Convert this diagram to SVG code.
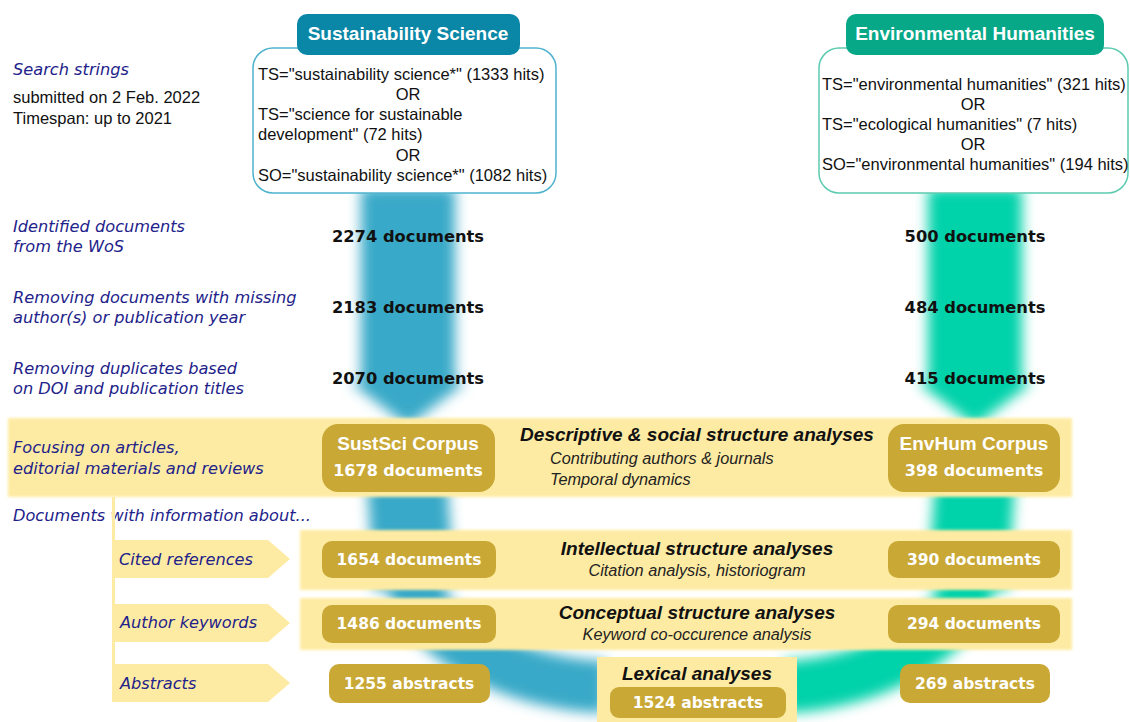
<svg xmlns="http://www.w3.org/2000/svg" width="1130" height="722" viewBox="0 0 1130 722">
<defs>
<filter id="blur" x="-40%" y="-20%" width="180%" height="140%"><feGaussianBlur stdDeviation="6.5"/></filter>
<filter id="soft" x="-5%" y="-20%" width="110%" height="140%"><feGaussianBlur stdDeviation="1.5"/></filter>
<style>
.lbl{font-family:"DejaVu Sans",Verdana,sans-serif;font-style:italic;font-size:16.2px;fill:#22228A}
.cnt{font-family:"DejaVu Sans",Verdana,sans-serif;font-weight:bold;font-size:16.3px;fill:#111;text-anchor:middle}
.q{font-family:"Liberation Sans",Arial,sans-serif;font-size:16.5px;fill:#111}
.qc{text-anchor:middle}
.gold{fill:#C9A835}
.gt{font-family:"DejaVu Sans",Verdana,sans-serif;font-weight:bold;font-size:15.5px;fill:#fff;text-anchor:middle}
.ct{font-family:"Liberation Sans",Arial,sans-serif;font-weight:bold;font-size:19px;fill:#fff;text-anchor:middle}
.band{fill:#FEEBA3}
.h{font-family:"Liberation Sans",Arial,sans-serif;font-weight:bold;font-style:italic;font-size:19px;fill:#111;text-anchor:middle}
.s{font-family:"Liberation Sans",Arial,sans-serif;font-style:italic;font-size:16.3px;fill:#222}
.tab{font-family:"Liberation Sans",Arial,sans-serif;font-weight:bold;font-size:19px;fill:#fff;text-anchor:middle}
</style>
</defs>
<rect width="1130" height="722" fill="#fff"/>

<g id="connectors">
  <g id="flow-sustsci" filter="url(#blur)" fill="#37A9C8">
    <rect x="361" y="188" width="94" height="200"/>
    <polygon points="350,382 466,382 408,426"/>
    <path d="M407 480 L414 588" stroke="#37A9C8" stroke-width="80" fill="none"/>
    <path d="M414 585 C425 635 510 684 605 687" stroke="#37A9C8" stroke-width="52" fill="none"/>
  </g>
  <g id="flow-envhum" filter="url(#blur)" fill="#05D2AA">
    <rect x="928" y="188" width="94" height="200"/>
    <polygon points="917,382 1033,382 975,426"/>
    <path d="M975 480 L968 588" stroke="#05D2AA" stroke-width="80" fill="none"/>
    <path d="M968 585 C957 635 875 684 785 687" stroke="#05D2AA" stroke-width="52" fill="none"/>
  </g>
</g>

<g id="left-labels">
  <text class="lbl" x="13" y="75">Search strings</text>
  <text class="q" x="13" y="103">submitted on 2 Feb. 2022</text>
  <text class="q" x="13" y="124">Timespan: up to 2021</text>
  <text class="lbl" x="13" y="232">Identified documents</text>
  <text class="lbl" x="13" y="252">from the WoS</text>
  <text class="lbl" x="13" y="303">Removing documents with missing</text>
  <text class="lbl" x="13" y="323">author(s) or publication year</text>
  <text class="lbl" x="13" y="374">Removing duplicates based</text>
  <text class="lbl" x="13" y="394">on DOI and publication titles</text>
</g>

<g id="sustsci-search">
  <rect x="253" y="48" width="303" height="145" rx="20" fill="#fff" stroke="#4FB3CE" stroke-width="1.5"/>
  <rect x="297" y="14" width="223" height="41" rx="10" fill="#0A86A6"/>
  <text class="tab" x="408" y="40">Sustainability Science</text>
  <text class="q" x="258" y="80">TS="sustainability science*" (1333 hits)</text>
  <text class="q qc" x="408" y="100">OR</text>
  <text class="q" x="258" y="120">TS="science for sustainable</text>
  <text class="q" x="258" y="140">development" (72 hits)</text>
  <text class="q qc" x="408" y="161">OR</text>
  <text class="q" x="258" y="181">SO="sustainability science*" (1082 hits)</text>
</g>

<g id="envhum-search">
  <rect x="819" y="48" width="309" height="145" rx="20" fill="#fff" stroke="#5CCBB0" stroke-width="1.5"/>
  <rect x="846" y="14" width="258" height="41" rx="10" fill="#07A888"/>
  <text class="tab" x="975" y="40">Environmental Humanities</text>
  <text class="q" x="822" y="90">TS="environmental humanities" (321 hits)</text>
  <text class="q qc" x="973" y="110">OR</text>
  <text class="q" x="822" y="130">TS="ecological humanities" (7 hits)</text>
  <text class="q qc" x="973" y="150">OR</text>
  <text class="q" x="822" y="170">SO="environmental humanities" (194 hits)</text>
</g>

<g id="counts">
  <text class="cnt" x="408" y="242">2274 documents</text>
  <text class="cnt" x="408" y="313">2183 documents</text>
  <text class="cnt" x="408" y="384">2070 documents</text>
  <text class="cnt" x="975" y="242">500 documents</text>
  <text class="cnt" x="975" y="313">484 documents</text>
  <text class="cnt" x="975" y="384">415 documents</text>
</g>

<g id="corpus-band">
  <rect class="band" x="8" y="418" width="1064" height="79" filter="url(#soft)"/>
  <text class="lbl" x="13" y="453">Focusing on articles,</text>
  <text class="lbl" x="13" y="474">editorial materials and reviews</text>
  <text class="h" x="697" y="441">Descriptive &amp; social structure analyses</text>
  <text class="s" x="550" y="464">Contributing authors &amp; journals</text>
  <text class="s" x="550" y="485">Temporal dynamics</text>
</g>
<g id="sustsci-corpus">
  <rect class="gold" x="322" y="424" width="173" height="68" rx="16"/>
  <text class="ct" x="408" y="450">SustSci Corpus</text>
  <text class="gt" x="408" y="476" style="font-size:16px">1678 documents</text>
</g>
<g id="envhum-corpus">
  <rect class="gold" x="888" y="424" width="172" height="68" rx="16"/>
  <text class="ct" x="974" y="450">EnvHum Corpus</text>
  <text class="gt" x="974" y="476" style="font-size:16px">398 documents</text>
</g>

<g id="info-labels">
  <text class="lbl" x="13" y="521">Documents with information about...</text>
  <rect class="band" x="112" y="497" width="3" height="205"/>
  <polygon class="band" points="113,540 268,540 290,559 268,578 113,578"/>
  <text class="lbl" x="119" y="565">Cited references</text>
  <polygon class="band" points="113,604 268,604 290,623 268,642 113,642"/>
  <text class="lbl" x="120" y="628">Author keywords</text>
  <polygon class="band" points="113,664 268,664 290,683 268,702 113,702"/>
  <text class="lbl" x="120" y="689">Abstracts</text>
</g>

<g id="intellectual">
  <rect class="band" x="300" y="530" width="772" height="60" filter="url(#soft)"/>
  <text class="h" x="697" y="555">Intellectual structure analyses</text>
  <text class="s" x="697" y="576" text-anchor="middle">Citation analysis, historiogram</text>
  <rect class="gold" x="322" y="541" width="174" height="37" rx="10"/>
  <text class="gt" x="409" y="565">1654 documents</text>
  <rect class="gold" x="888" y="541" width="172" height="37" rx="10"/>
  <text class="gt" x="974" y="565">390 documents</text>
</g>

<g id="conceptual">
  <rect class="band" x="300" y="598" width="772" height="52" filter="url(#soft)"/>
  <text class="h" x="697" y="619">Conceptual structure analyses</text>
  <text class="s" x="697" y="640" text-anchor="middle">Keyword co-occurence analysis</text>
  <rect class="gold" x="322" y="605" width="174" height="38" rx="10"/>
  <text class="gt" x="409" y="629">1486 documents</text>
  <rect class="gold" x="888" y="605" width="172" height="38" rx="10"/>
  <text class="gt" x="974" y="629">294 documents</text>
</g>

<g id="abstracts">
  <rect class="gold" x="329" y="664" width="161" height="39" rx="10"/>
  <text class="gt" x="409" y="689">1255 abstracts</text>
  <rect class="gold" x="900" y="664" width="150" height="39" rx="10"/>
  <text class="gt" x="975" y="689">269 abstracts</text>
</g>

<g id="lexical">
  <rect class="band" x="597" y="657" width="200" height="65"/>
  <text class="h" x="697" y="680">Lexical analyses</text>
  <rect class="gold" x="610" y="687" width="176" height="31" rx="9"/>
  <text class="gt" x="698" y="708">1524 abstracts</text>
</g>
</svg>
